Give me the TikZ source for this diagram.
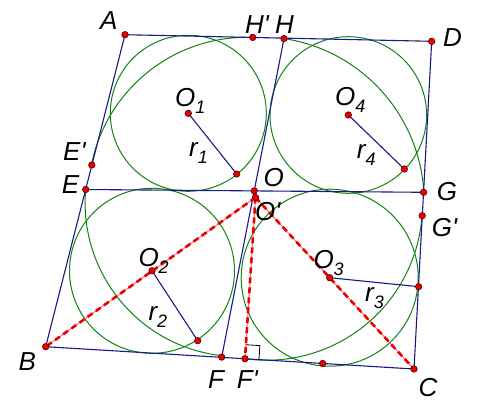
\documentclass[tikz,border=0pt]{standalone}
\usepackage{fontspec}
\setmainfont{Liberation Sans}[Ligatures=TeXOff]
\usetikzlibrary{calc}
\definecolor{qblue}{RGB}{25,25,135}
\definecolor{qgreen}{RGB}{20,130,20}
\definecolor{qred}{RGB}{235,0,0}
\definecolor{qpink}{RGB}{255,90,90}
\definecolor{qdotline}{RGB}{80,0,0}
\tikzset{
 side/.style={qblue, line width=1.1pt},
 circ/.style={qgreen, line width=1pt},
 redthin/.style={qpink, line width=0.8pt},
 reddash/.style={qred, line width=2.6pt, dash pattern=on 6pt off 4pt},
 pt/.style={circle, fill=qred, draw=qdotline, line width=0.6pt, inner sep=0pt, minimum size=6.5pt},
 lab/.style={font=\fontsize{26}{28}\selectfont\itshape, inner sep=0pt, anchor=base west},
 rmark/.style={black, line width=0.8pt},
}
\newcommand{\sbs}[1]{\raisebox{-7pt}{\fontsize{18}{18}\selectfont\itshape #1}}
\begin{document}
\begin{tikzpicture}[x=1pt,y=-1pt]
\fill[white] (0,0) rectangle (478,401);
\useasboundingbox (0,0) rectangle (478,401);
% points
\coordinate (A) at (125,34.7);
\coordinate (Hp) at (252.7,37.4);
\coordinate (H) at (284,38.6);
\coordinate (D) at (431.7,41.3);
\coordinate (Ep) at (91.8,165);
\coordinate (E) at (85.7,189.5);
\coordinate (O) at (254.3,190.9);
\coordinate (Op) at (255.5,197.5);
\coordinate (G) at (423.6,192.3);
\coordinate (Gp) at (422.2,215.7);
\coordinate (B) at (45.7,346.7);
\coordinate (F) at (221.7,357.1);
\coordinate (Fp) at (245,358.7);
\coordinate (C) at (414,369);
\coordinate (T) at (322.7,363.5);
\coordinate (O1) at (188.3,113.3);
\coordinate (O2) at (152,270.8);
\coordinate (O3) at (329.7,277.7);
\coordinate (O4) at (348.3,115);
\coordinate (R1) at (236.7,174);
\coordinate (R2) at (197.7,340.7);
\coordinate (R3) at (418.6,286.7);
\coordinate (R4) at (404.3,169);
% green circles
\draw[circ] (O1) circle[radius=78];
\draw[circ] (O4) circle[radius=78.3];
\draw[circ] (O2) circle[radius=82.5];
\draw[circ] (O3) circle[radius=88.5];
% green arcs
\draw[circ] (Hp) arc[start angle=-87.9, end angle=-168.9, radius=158.5];
\draw[circ] (H) arc[start angle=-81.4, end angle=-3.2, radius=164.7];
\draw[circ] (Fp) arc[start angle=98.0, end angle=4.4, radius=155.8];
\draw[circ] (E) arc[start angle=185.0, end angle=96.5, radius=153.7];
% blue segments
\draw[side] (A) -- (D) -- (C) -- (B) -- cycle;
\draw[side] (E) -- (G);
\draw[side] (H) -- (F);
\draw[side] (O1) -- (R1);
\draw[side] (O2) -- (R2);
\draw[side] (O3) -- (R3);
\draw[side] (O4) -- (R4);
% red dashed segments
\draw[redthin] (Op) -- (B);
\draw[redthin] (Op) -- (C);
\draw[redthin] (Op) -- (Fp);
\draw[reddash] (Op) -- (B);
\draw[reddash] (Op) -- (C);
\draw[reddash] (Op) -- (Fp);
% right angle mark
\coordinate (ra1) at ($(Fp)!14pt!(Op)$);
\coordinate (ra3) at ($(Fp)!14pt!(C)$);
\coordinate (ra2) at ($(ra1)+(ra3)-(Fp)$);
\draw[rmark] (ra1) -- (ra2) -- (ra3);
% dots
\foreach \p in {A,Hp,H,D,Ep,E,O,Op,G,Gp,B,F,Fp,C,T,O1,O2,O3,O4,R1,R2,R3,R4}
  \node[pt] (d\p) at (\p) {};
% labels
\node[lab] (lA) at (100,30) {A};
\node[lab] (lHp) at (245,33.3) {H'};
\node[lab] (lH) at (275,33.3) {H};
\node[lab] (lD) at (443,46.7) {D};
\node[lab] (lO1) at (175,106.7) {O\sbs{1}};
\node[lab] (lr1) at (189,156.7) {r\sbs{1}};
\node[lab] (lEp) at (63,160) {E'};
\node[lab] (lE) at (61.7,193.3) {E};
\node[lab] (lO4) at (335,105) {O\sbs{4}};
\node[lab] (lr4) at (356.7,158.3) {r\sbs{4}};
\node[lab] (lO) at (263.3,186.7) {O};
\node[lab] (lG) at (436.7,200) {G};
\node[lab] (lGp) at (431.7,236.7) {G'};
\node[lab] (lOp) at (255,220) {O'};
\node[lab] (lO2) at (138.3,266.7) {O\sbs{2}};
\node[lab] (lr2) at (148.3,320) {r\sbs{2}};
\node[lab] (lB) at (18.3,370) {B};
\node[lab] (lF) at (208,388) {F};
\node[lab] (lFp) at (236.7,388.3) {F'};
\node[lab] (lO3) at (313.3,268.3) {O\sbs{3}};
\node[lab] (lr3) at (365,301.7) {r\sbs{3}};
\node[lab] (lC) at (418.3,396.7) {C};
\end{tikzpicture}
\end{document}
